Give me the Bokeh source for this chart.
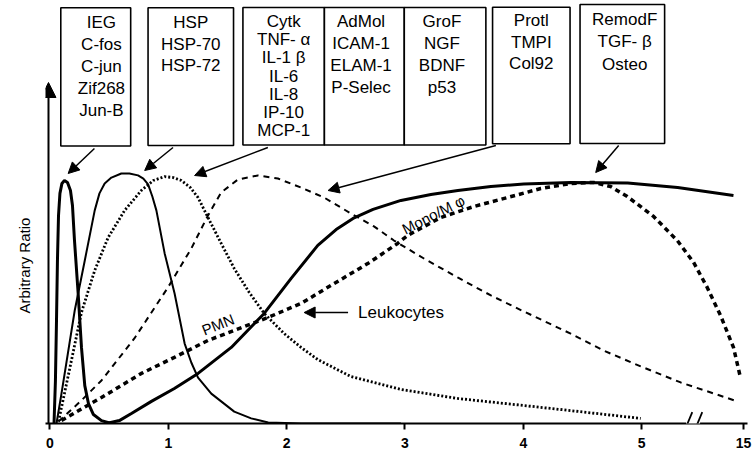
from bokeh.plotting import figure
from bokeh.models import Range1d, FixedTicker, Arrow, NormalHead, Title
from bokeh.embed import file_html
from bokeh.resources import INLINE
from bokeh.core.properties import value

# ---------------- data (time units on x, arbitrary ratio on y) ----------------
ieg_x = [0.034, 0.046, 0.055, 0.063, 0.072, 0.084, 0.101, 0.122, 0.148, 0.173, 0.190,
         0.207, 0.238, 0.266, 0.294, 0.325, 0.367, 0.435, 0.519]
ieg_y = [0.0, 0.177, 0.424, 0.671, 0.856, 0.947, 0.988, 1.0, 0.992, 0.959, 0.897,
         0.753, 0.535, 0.313, 0.156, 0.082, 0.037, 0.012, 0.0]

hsp_x = [0.055, 0.097, 0.209, 0.294, 0.378, 0.418, 0.462, 0.519, 0.603, 0.671, 0.744,
         0.789, 0.829, 0.865, 0.899, 0.969, 1.053, 1.138, 1.194, 1.251, 1.363, 1.557,
         1.700, 1.844, 2.122, 2.966]
hsp_y = [0.0, 0.123, 0.465, 0.671, 0.877, 0.947, 0.988, 1.012, 1.029, 1.029, 1.021,
         1.008, 0.984, 0.934, 0.877, 0.700, 0.535, 0.329, 0.251, 0.189, 0.123, 0.049,
         0.021, 0.004, 0.0, 0.0]

cytk_x = [0.072, 0.122, 0.181, 0.266, 0.378, 0.491, 0.631, 0.772, 0.873, 0.969, 1.042,
          1.110, 1.186, 1.251, 1.335, 1.447, 1.557, 1.684, 1.810, 1.979, 2.122, 2.263,
          2.544, 2.966, 3.445, 4.004, 4.400, 4.992]
cytk_y = [0.008, 0.123, 0.259, 0.457, 0.630, 0.765, 0.877, 0.959, 1.0, 1.016, 1.012,
          1.0, 0.971, 0.930, 0.848, 0.741, 0.638, 0.539, 0.453, 0.370, 0.313, 0.263,
          0.193, 0.140, 0.103, 0.074, 0.053, 0.021]

grof_x = [0.072, 0.266, 0.435, 0.713, 0.997, 1.194, 1.335, 1.447, 1.588, 1.757, 1.926,
          2.122, 2.316, 2.544, 2.738, 2.907, 3.160, 3.445, 3.726, 4.004, 4.400, 4.679,
          4.992, 5.330, 5.808]
grof_y = [0.008, 0.095, 0.177, 0.350, 0.560, 0.720, 0.856, 0.951, 1.004, 1.021, 1.008,
          0.971, 0.930, 0.864, 0.811, 0.753, 0.679, 0.601, 0.527, 0.461, 0.370, 0.300,
          0.235, 0.169, 0.091]

leuko_x = [0.097, 0.435, 0.772, 1.051, 1.335, 1.557, 1.841, 2.122, 2.401, 2.685, 2.938,
           3.023, 3.304, 3.582, 3.867, 4.148, 4.401, 4.595, 4.738, 4.879, 5.101, 5.301,
           5.439, 5.554, 5.667, 5.776, 5.835]
leuko_y = [0.012, 0.107, 0.206, 0.272, 0.342, 0.383, 0.436, 0.494, 0.576, 0.658, 0.741,
           0.774, 0.848, 0.893, 0.930, 0.967, 0.988, 0.992, 0.975, 0.934, 0.852, 0.753,
           0.663, 0.560, 0.444, 0.313, 0.189]

remod_x = [0.477, 0.586, 0.688, 0.857, 1.051, 1.251, 1.532, 1.810, 2.038, 2.263, 2.418,
           2.561, 2.730, 2.966, 3.219, 3.447, 3.726, 4.004, 4.401, 4.882, 5.304, 5.776]
remod_y = [0.0, 0.012, 0.041, 0.091, 0.144, 0.206, 0.313, 0.453, 0.597, 0.733, 0.798,
           0.844, 0.881, 0.918, 0.942, 0.959, 0.975, 0.986, 0.992, 0.990, 0.971, 0.938]

tick_values = [0, 1, 2, 3, 4, 5, 5.86]
tick_labels = ["0", "1", "2", "3", "4", "5", "15"]

box_titles = ["IEG", "HSP", "Cytk", "AdMol", "GroF", "Protl", "RemodF"]
box_members = [
    ["C-fos", "C-jun", "Zif268", "Jun-B"],
    ["HSP-70", "HSP-72"],
    ["TNF- α", "IL-1 β", "IL-6", "IL-8", "IP-10", "MCP-1"],
    ["ICAM-1", "ELAM-1", "P-Selec"],
    ["NGF", "BDNF", "p53"],
    ["TMPI", "Col92"],
    ["TGF- β", "Osteo"],
]
y_label = "Arbitrary Ratio"

# ---------------- layout helpers (picture pixels -> data) ----------------
X0_PX, X_PX = 48.5, 118.5
Y0_PX, Y_PX = 423.0, 243.0
def dx(px):
    return (px - X0_PX) / X_PX
def dy(py):
    return (Y0_PX - py) / Y_PX

FONT = value("Liberation Sans")

p = figure(width=752, height=457, output_backend="svg", toolbar_location=None,
           x_range=Range1d(dx(44), dx(747)), y_range=Range1d(0, dy(0)),
           min_border_left=44, min_border_right=5, min_border_top=0, min_border_bottom=34)
p.outline_line_color = None
p.xgrid.visible = False
p.ygrid.visible = False
p.background_fill_color = "white"

# x axis
xa = p.xaxis[0]
xa.ticker = FixedTicker(ticks=tick_values, minor_ticks=[])
xa.major_label_overrides = {t: l for t, l in zip(tick_values, tick_labels)}
xa.axis_line_width = 2
xa.axis_line_color = "black"
xa.major_tick_line_width = 2
xa.major_tick_out = 6
xa.major_tick_in = 0
xa.minor_tick_line_color = None
xa.major_label_standoff = 8
xa.axis_label_standoff = 0
xa.major_label_text_font = "Liberation Sans"
xa.major_label_text_font_style = "bold"
xa.major_label_text_font_size = "14px"
xa.major_label_text_color = "black"

# y axis: its line is drawn as an arrow; its title sits in the left panel
p.yaxis.visible = False
p.add_layout(Title(text=y_label, align="left", offset=110, vertical_align="bottom",
                   standoff=26, text_font="Liberation Sans", text_font_size="15px",
                   text_font_style="normal", text_color="black"), "left")

# ---------------- curves ----------------
p.line(grof_x, grof_y, line_color="black", line_width=2, line_dash="6 5")
p.line(cytk_x, cytk_y, line_color="black", line_width=2.8, line_dash="2 2")
p.line(hsp_x, hsp_y, line_color="black", line_width=2)
p.line(leuko_x, leuko_y, line_color="black", line_width=3.5, line_dash="5 4")
p.line(remod_x, remod_y, line_color="black", line_width=3)
p.line(ieg_x, ieg_y, line_color="black", line_width=3)

# ---------------- boxes ----------------
box_left_px = [59.3, 146.7, 241.7, 323.3, 403.3, 491.7, 579.3]
box_right_px = [129.3, 232.3, 323.3, 403.3, 485.0, 569.3, 664.0]
box_top_px = [7.3, 7.3, 7.0, 7.0, 7.0, 6.7, 4.0]
box_bottom_px = [145.5, 145.0, 144.5, 144.5, 144.5, 143.3, 143.0]
text_cx_px = [100.0, 189.5, 282.5, 360.0, 441.0, 530.5, 624.0]
first_line_px = [22.0, 22.0, 21.0, 21.0, 20.5, 20.0, 18.5]
line_step_px = [22.0, 21.5, 18.2, 22.0, 22.0, 21.7, 22.5]

p.quad(left=[dx(v) for v in box_left_px], right=[dx(v) for v in box_right_px],
       top=[dy(v) for v in box_top_px], bottom=[dy(v) for v in box_bottom_px],
       fill_color="white", line_color="black", line_width=1.6)

tx, ty, tt = [], [], []
for i, title in enumerate(box_titles):
    lines = [title] + box_members[i]
    for j, s in enumerate(lines):
        tx.append(dx(text_cx_px[i]))
        ty.append(dy(first_line_px[i] + j * line_step_px[i]))
        tt.append(s)
p.text(x=tx, y=ty, text=tt, text_align="center", text_baseline="middle",
       text_font=FONT, text_font_size="17px", text_color="black")

# ---------------- curve labels ----------------
p.text(x=[dx(216.7)], y=[dy(324)], text=["PMN"], angle=0.38, text_align="center",
       text_baseline="middle", text_font=FONT, text_font_size="15px", text_color="black")
p.text(x=[dx(432.5)], y=[dy(214)], text=["Mono/M φ"], angle=0.47, text_align="center",
       text_baseline="middle", text_font=FONT, text_font_size="15px", text_color="black")
p.text(x=[dx(357)], y=[dy(312)], text=["Leukocytes"], text_align="left",
       text_baseline="middle", text_font=FONT, text_font_size="17px", text_color="black")

# ---------------- arrows ----------------
def add_arrow(x0, y0, x1, y1, size=11, width=1.5):
    p.add_layout(Arrow(end=NormalHead(size=size, fill_color="black", line_color="black"),
                       x_start=dx(x0), y_start=dy(y0), x_end=dx(x1), y_end=dy(y1),
                       line_color="black", line_width=width))

add_arrow(93, 148, 66.7, 173)
add_arrow(171.7, 147, 143.3, 170)
add_arrow(266.7, 147, 193.3, 175)
add_arrow(495, 145, 327, 190)
add_arrow(618, 145, 595, 172)
add_arrow(347, 312, 303, 312)
# y axis arrow
add_arrow(47, 423, 47, 82, size=15, width=2)

# axis break
p.add_layout(Arrow(end=None, x_start=dx(685.5), y_start=dy(423), x_end=dx(699.5), y_end=dy(423),
                   line_color="white", line_width=5))
p.add_layout(Arrow(end=None, x_start=dx(683.3), y_start=dy(431.7), x_end=dx(691.7), y_end=dy(411.7),
                   line_color="black", line_width=1.8))
p.add_layout(Arrow(end=None, x_start=dx(693.3), y_start=dy(431.7), x_end=dx(701.7), y_end=dy(411.7),
                   line_color="black", line_width=1.8))

open("out.html", "w").write(file_html(p, INLINE))
